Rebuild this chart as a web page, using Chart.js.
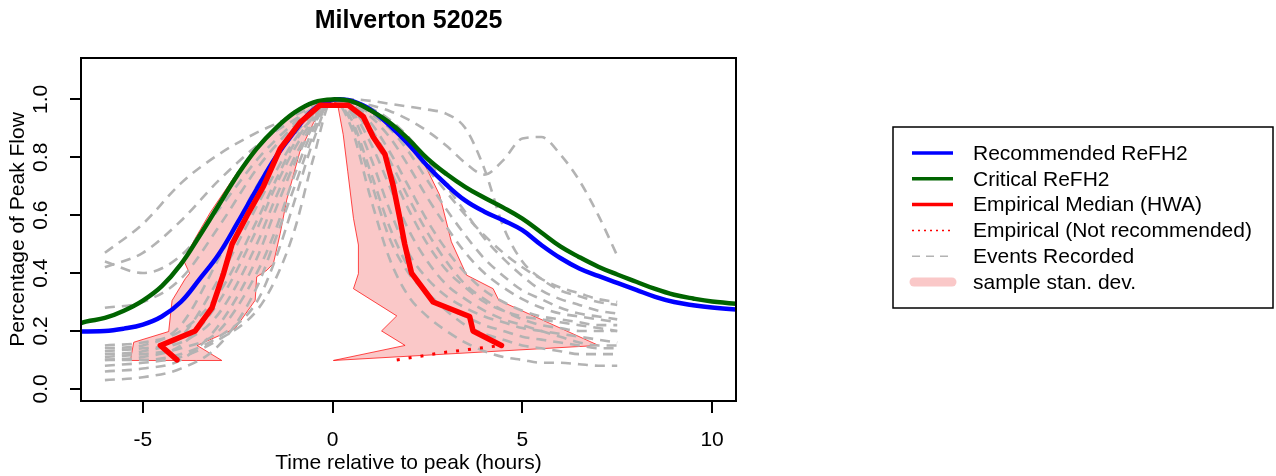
<!DOCTYPE html>
<html>
<head>
<meta charset="utf-8">
<title>Milverton 52025</title>
<script src="https://cdn.jsdelivr.net/npm/chart.js@4.4.1/dist/chart.umd.min.js"></script>
<style>
  html, body { margin: 0; padding: 0; background: #fff; }
  #wrap { width: 1276px; height: 476px; }
</style>
</head>
<body>
<div id="wrap"><canvas id="chart" width="1276" height="476"></canvas></div>
<script>
// ---- data ----
const chartTitle = 'Milverton 52025';
const xTitle = 'Time relative to peak (hours)';
const yTitle = 'Percentage of Peak Flow';
const xTicks = [-5, 0, 5, 10];
const yTicks = [0, 0.2, 0.4, 0.6, 0.8, 1.0];

// Recommended ReFH2 (blue)
const recTime = [-7, -6, -5.5, -5, -4.5, -4, -3.5, -3, -2.5, -2, -1.5, -1, -0.5, 0, 0.25, 0.5, 1, 1.5, 2, 2.5, 3, 3.5, 4, 4.5, 5, 5.5, 6, 6.5, 7, 7.5, 8, 8.5, 9, 9.5, 10, 11];
const recFlow = [0.198, 0.2, 0.208, 0.222, 0.25, 0.3, 0.38, 0.465, 0.575, 0.69, 0.8, 0.89, 0.965, 0.998, 1.0, 0.995, 0.965, 0.91, 0.845, 0.77, 0.705, 0.65, 0.612, 0.582, 0.548, 0.497, 0.452, 0.416, 0.39, 0.366, 0.342, 0.318, 0.3, 0.289, 0.281, 0.27];

// Critical ReFH2 (green)
const critTime = [-7, -6.5, -6, -5.5, -5, -4.5, -4, -3.5, -3, -2.5, -2, -1.5, -1, -0.5, 0, 0.5, 1, 1.5, 2, 2.5, 3, 3.5, 4, 4.5, 5, 5.5, 6, 6.5, 7, 7.5, 8, 8.5, 9, 9.5, 10, 11];
const critFlow = [0.21, 0.232, 0.245, 0.27, 0.305, 0.355, 0.43, 0.53, 0.635, 0.74, 0.83, 0.9, 0.955, 0.99, 1.0, 0.993, 0.962, 0.92, 0.862, 0.795, 0.742, 0.697, 0.66, 0.626, 0.588, 0.54, 0.492, 0.455, 0.422, 0.395, 0.37, 0.345, 0.325, 0.312, 0.302, 0.29];

// Empirical median (HWA)
const medTime = [-4.10, -4.54, -3.62, -3.18, -2.87, -2.65, -2.25, -1.82, -1.38, -0.86, -0.33, 0.41, 0.81, 1.07, 1.38, 1.60, 1.77, 1.90, 2.08, 2.65, 3.61, 3.70, 4.45];
const medFlow = [0.10, 0.15, 0.20, 0.28, 0.40, 0.50, 0.60, 0.70, 0.83, 0.92, 0.98, 0.98, 0.94, 0.87, 0.81, 0.70, 0.59, 0.50, 0.40, 0.30, 0.25, 0.20, 0.15];

// Empirical (not recommended)
const notRecTime = [1.69, 2.9, 4.45];
const notRecFlow = [0.10, 0.125, 0.15];

// sample stan. dev. band, rising limb and falling limb
const bandLeftTime = [-5.33, -5.24, -4.32, -4.23, -3.88, -3.77, -3.93, -3.62, -3.22, -2.5, -1.88, -1.27, -0.6, -0.05, -0.2, -0.5, -0.86, -1.05, -1.21, -1.38, -1.56, -1.73, -2.0, -2.04, -2.57, -3.57, -2.92, -5.33];
const bandLeftFlow = [0.098, 0.161, 0.198, 0.305, 0.381, 0.399, 0.445, 0.52, 0.61, 0.75, 0.855, 0.935, 0.98, 0.992, 0.965, 0.92, 0.82, 0.73, 0.652, 0.537, 0.433, 0.41, 0.387, 0.306, 0.208, 0.15, 0.098, 0.098];
const bandRightTime = [0.05, 0.63, 1.33, 1.95, 2.39, 2.82, 3.13, 3.53, 4.23, 4.38, 7.01, 0.02, 1.91, 1.29, 1.69, 0.55, 0.68, 0.68, 0.55, 0.4, 0.28, 0.15, 0.05];
const bandRightFlow = [0.99, 0.982, 0.936, 0.866, 0.785, 0.67, 0.508, 0.393, 0.346, 0.306, 0.15, 0.098, 0.15, 0.2, 0.252, 0.346, 0.398, 0.497, 0.589, 0.75, 0.878, 0.97, 0.99];

// Events recorded (grey dashed)
const eventTime = [-6, -5, -4, -3, -2, -1.5, -1, -0.5, 0, 0.5, 1, 1.5, 2, 2.5, 3, 3.5, 4, 4.5, 5, 5.5, 6, 6.5, 7, 7.5];
const events = [
  [0.47, 0.57, 0.71, 0.81, 0.885, 0.915, 0.945, 0.975, 1, 1.0, 0.995, 0.985, 0.975, 0.965, 0.95, 0.90, 0.76, 0.56, 0.44, 0.38, 0.34, 0.32, 0.30, 0.29],
  [0.42, 0.47, 0.58, 0.72, 0.84, 0.89, 0.93, 0.97, 1, 0.99, 0.98, 0.96, 0.93, 0.89, 0.84, 0.78, 0.74, 0.79, 0.865, 0.87, 0.81, 0.72, 0.60, 0.46],
  [0.44, 0.40, 0.46, 0.62, 0.79, 0.86, 0.92, 0.97, 1, 0.99, 0.96, 0.91, 0.84, 0.76, 0.68, 0.60, 0.53, 0.47, 0.42, 0.38, 0.35, 0.33, 0.31, 0.30],
  [0.28, 0.30, 0.38, 0.56, 0.76, 0.84, 0.91, 0.96, 1, 0.99, 0.97, 0.93, 0.87, 0.79, 0.70, 0.61, 0.52, 0.45, 0.39, 0.34, 0.31, 0.29, 0.27, 0.26],
  [0.14, 0.15, 0.22, 0.45, 0.70, 0.80, 0.88, 0.95, 1, 0.92, 0.72, 0.52, 0.40, 0.33, 0.28, 0.25, 0.22, 0.20, 0.18, 0.17, 0.16, 0.15, 0.14, 0.14],
  [0.12, 0.13, 0.18, 0.38, 0.63, 0.75, 0.86, 0.94, 1, 0.99, 0.95, 0.90, 0.82, 0.72, 0.62, 0.53, 0.45, 0.39, 0.34, 0.31, 0.28, 0.26, 0.25, 0.24],
  [0.10, 0.11, 0.15, 0.30, 0.55, 0.70, 0.83, 0.93, 1, 0.95, 0.80, 0.62, 0.47, 0.38, 0.32, 0.28, 0.25, 0.23, 0.21, 0.20, 0.19, 0.18, 0.17, 0.16],
  [0.06, 0.07, 0.10, 0.22, 0.45, 0.62, 0.78, 0.91, 1, 0.98, 0.94, 0.87, 0.77, 0.66, 0.56, 0.47, 0.40, 0.35, 0.31, 0.28, 0.26, 0.25, 0.24, 0.23],
  [0.03, 0.04, 0.07, 0.15, 0.35, 0.52, 0.70, 0.88, 1, 0.90, 0.66, 0.45, 0.32, 0.25, 0.20, 0.16, 0.13, 0.11, 0.10, 0.09, 0.09, 0.085, 0.08, 0.08],
  [0.13, 0.14, 0.16, 0.26, 0.50, 0.66, 0.80, 0.92, 1, 0.96, 0.85, 0.70, 0.55, 0.44, 0.36, 0.31, 0.27, 0.24, 0.22, 0.20, 0.18, 0.16, 0.15, 0.15],
  [0.11, 0.12, 0.14, 0.20, 0.40, 0.55, 0.74, 0.90, 1, 0.98, 0.92, 0.82, 0.70, 0.58, 0.48, 0.40, 0.34, 0.30, 0.27, 0.25, 0.24, 0.23, 0.22, 0.22],
  [0.15, 0.16, 0.20, 0.33, 0.58, 0.72, 0.85, 0.94, 1, 0.97, 0.88, 0.76, 0.62, 0.50, 0.41, 0.35, 0.30, 0.27, 0.25, 0.24, 0.23, 0.22, 0.21, 0.20],
  [0.10, 0.10, 0.12, 0.18, 0.30, 0.45, 0.65, 0.86, 1, 0.93, 0.75, 0.56, 0.42, 0.33, 0.27, 0.22, 0.19, 0.17, 0.15, 0.14, 0.13, 0.12, 0.12, 0.12],
  [0.08, 0.09, 0.11, 0.17, 0.27, 0.38, 0.55, 0.80, 1, 0.97, 0.90, 0.79, 0.66, 0.54, 0.44, 0.36, 0.31, 0.27, 0.24, 0.22, 0.21, 0.20, 0.20, 0.20]
];

const legendLabels = ['Recommended ReFH2', 'Critical ReFH2', 'Empirical Median (HWA)', 'Empirical (Not recommended)', 'Events Recorded', 'sample stan. dev.'];

// ---- colours ----
const BLUE = '#0000ff';
const GREEN = '#006400';
const RED = '#ff0000';
const GREY = '#b3b3b3';
const PINK = '#fac8c8';
const FONT = "'Liberation Sans', Arial, sans-serif";

Chart.defaults.font.family = FONT;
Chart.defaults.color = '#000';

function pts(xs, ys) {
  return xs.map((x, i) => ({ x: x, y: ys[i] }));
}

const datasets = [
  { data: pts(medTime, medFlow), borderColor: RED, borderWidth: 5.5, borderJoinStyle: 'round', borderCapStyle: 'round', tension: 0 },
  { data: pts(notRecTime, notRecFlow), borderColor: RED, borderWidth: 3, borderDash: [3, 9], tension: 0 },
  { data: pts(critTime, critFlow), borderColor: GREEN, borderWidth: 4.5, tension: 0.4 },
  { data: pts(recTime, recFlow), borderColor: BLUE, borderWidth: 4.5, tension: 0.4 }
];
events.forEach(ev => {
  datasets.push({ data: pts(eventTime, ev), borderColor: GREY, borderWidth: 2.6, borderDash: [10, 7], cubicInterpolationMode: 'monotone' });
});
[[bandLeftTime, bandLeftFlow], [bandRightTime, bandRightFlow]].forEach(b => {
  datasets.push({ data: pts(b[0], b[1]), borderColor: 'rgba(255,0,0,0.7)', borderWidth: 1, backgroundColor: PINK, fill: 'shape', tension: 0 });
});
datasets.forEach(d => { d.pointRadius = 0; if (d.fill === undefined) d.fill = false; });

// frame, rotated y labels, title and legend (base-graphics look)
const decor = {
  id: 'decor',
  beforeDraw(chart) {
    const ctx = chart.ctx;
    ctx.save();
    ctx.fillStyle = '#fff';
    ctx.fillRect(0, 0, chart.width, chart.height);
    ctx.restore();
  },
  afterDraw(chart) {
    const ctx = chart.ctx;
    const a = chart.chartArea;
    const ys = chart.scales.y;
    ctx.save();
    ctx.strokeStyle = '#000';
    ctx.lineWidth = 2;
    ctx.strokeRect(a.left, a.top, a.right - a.left, a.bottom - a.top);

    ctx.fillStyle = '#000';
    ctx.font = '21px ' + FONT;
    ctx.textAlign = 'center';
    ctx.textBaseline = 'middle';
    yTicks.forEach(v => {
      ctx.save();
      ctx.translate(41, ys.getPixelForValue(v));
      ctx.rotate(-Math.PI / 2);
      ctx.fillText(v.toFixed(1), 0, 0);
      ctx.restore();
    });

    ctx.font = 'bold 25px ' + FONT;
    ctx.fillText(chartTitle, (a.left + a.right) / 2, 21);

    // legend
    const bx = 893, by = 127, bw = 380, bh = 181;
    ctx.lineWidth = 1.5;
    ctx.strokeRect(bx, by, bw, bh);
    const styles = [
      { c: BLUE, w: 3.5 },
      { c: GREEN, w: 3.5 },
      { c: RED, w: 3.5 },
      { c: RED, w: 1.5, dash: [2, 4] },
      { c: GREY, w: 1.5, dash: [8, 6] },
      { c: PINK, w: 9, cap: 'round' }
    ];
    ctx.font = '21px ' + FONT;
    ctx.textAlign = 'left';
    legendLabels.forEach((lab, i) => {
      const ry = 153 + i * 25.8;
      const s = styles[i];
      ctx.save();
      ctx.strokeStyle = s.c;
      ctx.lineWidth = s.w;
      ctx.lineCap = s.cap || 'butt';
      ctx.setLineDash(s.dash || []);
      ctx.beginPath();
      ctx.moveTo(s.cap ? 914 : 912, ry);
      ctx.lineTo(s.cap ? 952 : 953, ry);
      ctx.stroke();
      ctx.restore();
      ctx.fillText(lab, 973, ry + 1);
    });
    ctx.restore();
  }
};

new Chart('chart', {
  type: 'line',
  data: { datasets: datasets },
  options: {
    responsive: false,
    animation: false,
    events: [],
    layout: { padding: { top: 58, right: 540, left: 0, bottom: 0 } },
    plugins: {
      legend: { display: false },
      tooltip: { enabled: false },
      title: { display: false }
    },
    scales: {
      x: {
        type: 'linear',
        min: -6.63,
        max: 10.63,
        afterBuildTicks: axis => { axis.ticks = xTicks.map(v => ({ value: v })); },
        afterFit: axis => { axis.height = 75; },
        ticks: { font: { size: 21 }, color: '#000', padding: 15, callback: v => String(v) },
        grid: { drawOnChartArea: false, drawTicks: true, tickLength: 12, color: '#000', lineWidth: 2 },
        border: { display: false },
        title: { display: true, text: xTitle, font: { size: 21 }, color: '#000', padding: { top: 0, bottom: 0 } }
      },
      y: {
        type: 'linear',
        min: -0.042,
        max: 1.143,
        afterBuildTicks: axis => { axis.ticks = yTicks.map(v => ({ value: v })); },
        afterFit: axis => { axis.width = 81; },
        ticks: { display: false },
        grid: { drawOnChartArea: false, drawTicks: true, tickLength: 11, color: '#000', lineWidth: 2 },
        border: { display: false },
        title: { display: true, text: yTitle, font: { size: 21 }, color: '#000', padding: { top: 6, bottom: 0 } }
      }
    }
  },
  plugins: [decor]
});
</script>
</body>
</html>
